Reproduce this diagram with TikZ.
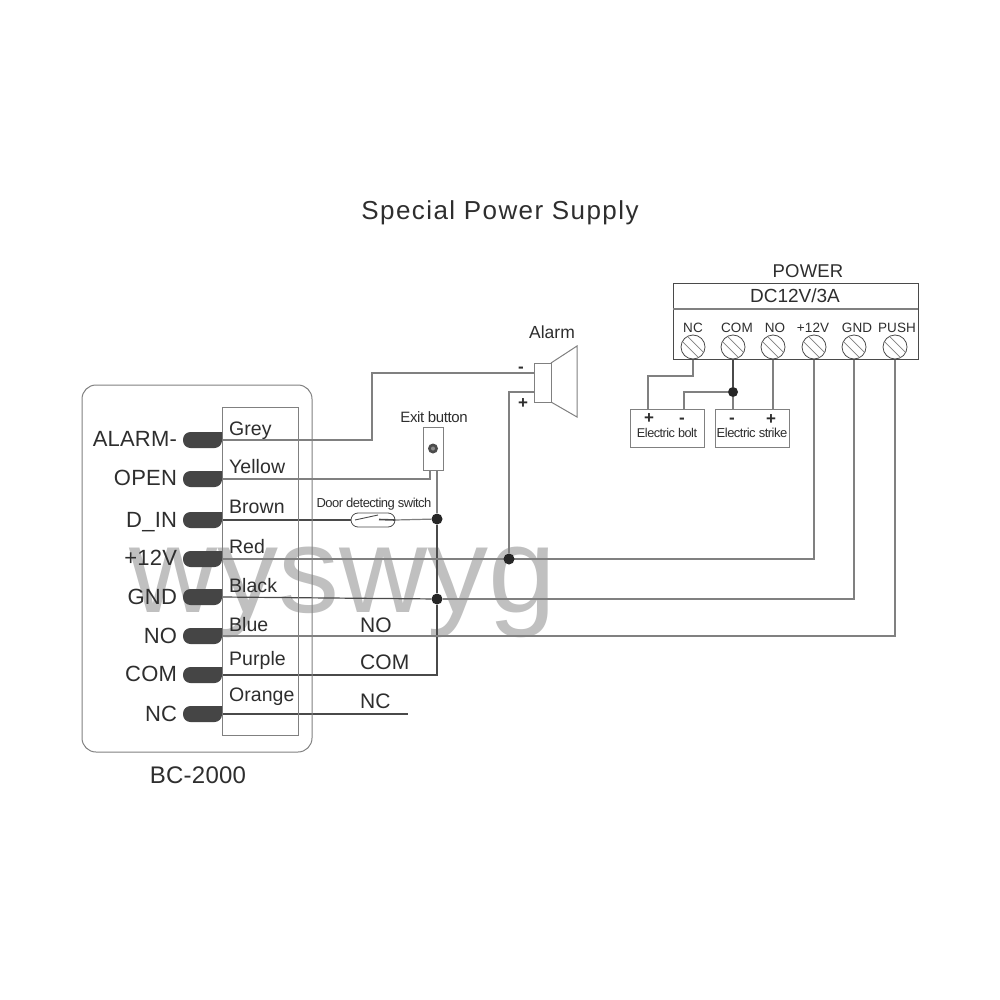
\documentclass[tikz,border=0pt]{standalone}
\usepackage{fontspec}
\setmainfont{Liberation Sans}
\usetikzlibrary{calc}
\pgfdeclarelayer{wirelayer}
\pgfsetlayers{wirelayer,main}
\definecolor{ink}{HTML}{2E2E2E}
\definecolor{wireG}{HTML}{808080}
\definecolor{wireD}{HTML}{4A4A4A}
\definecolor{mark}{HTML}{C0C0C0}
\definecolor{pill}{HTML}{454545}
\newcommand{\sz}[2]{\fontsize{#1}{#1}\selectfont\addfontfeatures{LetterSpace=#2}}
\tikzset{
  lbl/.style={inner sep=0pt,outer sep=0pt,text=ink,anchor=base},
  title/.style={lbl,font=\sz{26}{5.5}},
  side/.style={lbl,anchor=base east,font=\sz{22}{1}},
  cable/.style={lbl,anchor=base west,font=\sz{19.5}{0.5}},
  relay/.style={lbl,anchor=base west,font=\sz{21}{1}},
  head/.style={lbl,font=\sz{18.5}{1}},
  term/.style={lbl,font=\sz{13.5}{1}},
  tiny/.style={lbl,font=\sz{13}{-4}},
  sign/.style={lbl,font=\bfseries\fontsize{17}{17}\selectfont},
  boxG/.style={draw=wireG,line width=1pt,fill=none,inner sep=0pt,outer sep=0pt},
  wire/.style={draw=wireG,line width=1.2pt},
  dwire/.style={draw=wireD,line width=1.2pt},
  dot/.style={circle,fill=black!85,inner sep=0pt,minimum size=11pt},
  screw/.style={circle,draw=wireD,line width=.8pt,inner sep=0pt,minimum size=24pt},
}
\begin{document}
\begin{tikzpicture}[x=1pt,y=-1pt]
\useasboundingbox (0,0) rectangle (1000,1000);

\begin{pgfonlayer}{wirelayer}
\fill[white] (0,0) rectangle (1000,1000);
\node[lbl,text=mark,font=\fontsize{122}{122}\selectfont] (wm) at (343,612) {wyswyg};
\end{pgfonlayer}

\node[title] (ttl) at (500,220) {Special Power Supply};

% controller
\draw[boxG,rounded corners=14pt] (82,385) rectangle (312,752);
\node[boxG,minimum width=76pt,minimum height=328pt] (strip) at (260,571) {};
\node[lbl,font=\sz{24}{1}] (bc) at (198,783) {BC-2000};

\foreach \n/\y/\txt/\by in {a/440/ALARM-/446,b/479/OPEN/485,c/520/D\_IN/527,d/559/+12V/565,e/597/GND/604,f/636/NO/643,g/675/COM/681,h/714/NC/721}{
  \fill[pill,rounded corners=7.5pt] (222,\y-8) -- (183,\y-8) -- (183,\y+8) -- (222,\y+8) [sharp corners] -- cycle;
  \coordinate (p\n) at (222,\y);
  \node[side] (l\n) at (177,\by) {\txt};
}
\foreach \n/\txt/\by in {a/Grey/435,b/Yellow/473,c/Brown/513,d/Red/553,e/Black/592,f/Blue/631,g/Purple/665,h/Orange/701}{
  \node[cable] (c\n) at (229,\by) {\txt};
}
\node[relay] (rno) at (360,632) {NO};
\node[relay] (rcom) at (360,669) {COM};
\node[relay] (rnc) at (360,708) {NC};

% alarm
\node[boxG,minimum width=17pt,minimum height=39pt] (spk) at (542.5,382.5) {};
\draw[boxG] (spk.north east) -- (577,346) -- (577,417) -- (spk.south east);
\node[lbl,font=\sz{17.5}{0}] (alarm) at (552,338) {Alarm};
\node[sign] (sm) at (521,372) {-};
\node[sign] (sp) at (523,408) {+};

% exit button
\node[boxG,minimum width=20pt,minimum height=43pt] (btn) at (433,448.5) {};
\fill[black!70] (btn.center) circle (5pt);
\fill[black!45] (btn.center) circle (2pt);
\node[lbl,font=\sz{15}{-2.7}] (exit) at (434,422) {Exit button};

% door switch
\node[tiny] (door) at (374,507) {Door detecting switch};
\node[draw=wireD,line width=.8pt,rounded corners=7pt,minimum width=44pt,minimum height=14pt,inner sep=0pt,outer sep=0pt] (sw) at (373,520) {};
\draw[wireD,line width=.9pt] (355,520) -- (378,515);
\draw[wireD,line width=1.6pt] (379,519.5) -- (sw.east);

% junctions
\node[dot] (j1) at (437,519) {};
\node[dot] (j2) at (509,559) {};
\node[dot] (j3) at (437,599) {};
\node[dot,minimum size=10pt] (j4) at (733,392) {};

% power
\node[boxG,draw=wireD,minimum width=245pt,minimum height=76pt] (pw) at (795.5,321) {};
\draw[wireG,line width=1.2pt] (pw.west |- 0,309) -- (pw.east |- 0,309);
\node[head] (pwt) at (808,277) {POWER};
\node[lbl,font=\sz{19}{0}] (dc) at (795,302) {DC12V/3A};
\foreach \n/\x/\lx/\txt in {1/693/693/NC,2/733/737/COM,3/773/775/NO,4/814/813/+12V,5/854/857/GND,6/895/897/PUSH}{
  \node[screw,fill=white] (s\n) at (\x,347) {};
  \draw[wireG,line width=.7pt] ($(s\n)+(-5.4,-10.6)$) -- ($(s\n)+(10.6,5.4)$);
  \draw[wireG,line width=.7pt] ($(s\n)+(-10.6,-5.4)$) -- ($(s\n)+(5.4,10.6)$);
  \node[term] (t\n) at (\lx,332) {\txt};
}

% lock boxes
\node[boxG,minimum width=74pt,minimum height=38pt] (bolt) at (667,428) {};
\node[boxG,minimum width=74pt,minimum height=38pt] (strike) at (752,428) {};
\node[lbl,font=\sz{12.7}{-4}] (bt) at (667,437) {Electric bolt};
\node[tiny] (st) at (752,437) {Electric strike};
\node[sign] (b1) at (649,423) {+};
\node[sign] (b2) at (682,423) {-};
\node[sign] (s1m) at (732,423) {-};
\node[sign] (s2p) at (771,424) {+};

% wires
\begin{pgfonlayer}{wirelayer}
\draw[wire] (pa) -- (372,440) -- (372,373) -- (spk.west |- 0,373);
\draw[wire] (pb) -- (430,479) -- (430,470);
\draw[dwire] (pc) -- (sw.west);
\draw[wire] (sw.east) -- (j1);
\draw[wire] (437,470) -- (j1);
\draw[dwire] (j1) -- (j3);
\draw[dwire] (j3) -- (437,675) -- (pg);
\draw[wire] (pd) -- (814,559) -- (s4.south);
\draw[wire] (j2) -- (509,392) -- (spk.west |- 0,392);
\draw[dwire] (pe) -- (j3);
\draw[wire] (j3) -- (854,599) -- (s5.south);
\draw[wire] (pf) -- (895,636) -- (s6.south);
\draw[dwire] (ph) -- (408,714);
\draw[wire] (s1.south) -- (693,376) -- (648,376) -- (648,409);
\draw[dwire] (s2.south) -- (j4);
\draw[wire] (j4) -- (733,409);
\draw[wire] (j4) -- (684,392) -- (684,409);
\draw[wire] (s3.south) -- (773,409);
\end{pgfonlayer}
\end{tikzpicture}
\end{document}
